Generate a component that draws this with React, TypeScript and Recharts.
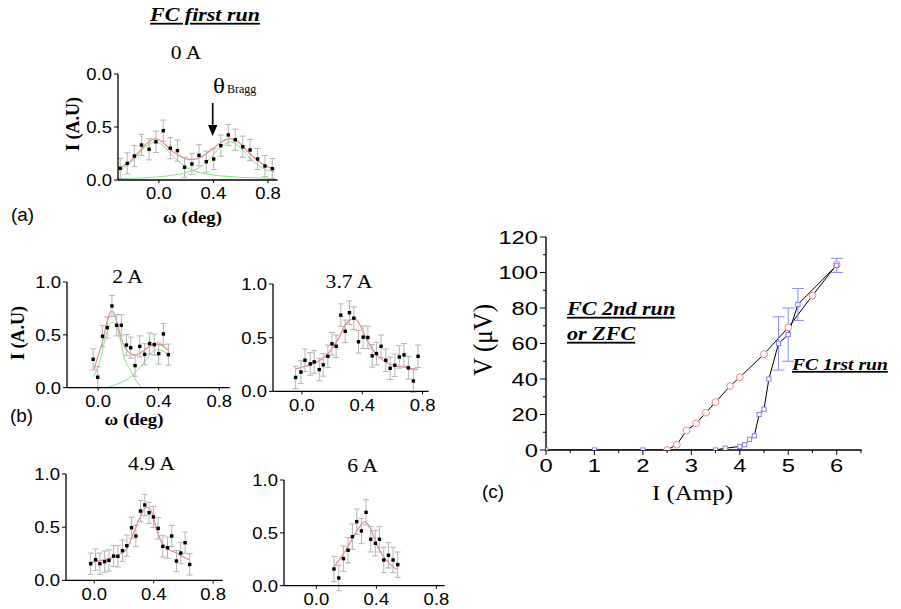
import React from 'react';
import { ComposedChart, Line, Scatter, XAxis, YAxis, ErrorBar } from 'recharts';

// ---------------- Panel (a): FC first run, 0 A ----------------
const omega0A = [-0.284, -0.232, -0.18, -0.128, -0.072, -0.022, 0.032, 0.084, 0.136, 0.188, 0.242, 0.294, 0.348, 0.402, 0.454, 0.509, 0.56, 0.615, 0.669, 0.724, 0.778, 0.832];
const int0A = [0.11, 0.157, 0.226, 0.33, 0.29, 0.36, 0.465, 0.3, 0.277, 0.12, 0.151, 0.233, 0.173, 0.198, 0.324, 0.425, 0.38, 0.314, 0.283, 0.198, 0.132, 0.107];
const err0A = [0.095, 0.1, 0.1, 0.1, 0.1, 0.1, 0.1, 0.1, 0.1, 0.095, 0.1, 0.1, 0.1, 0.1, 0.1, 0.1, 0.1, 0.1, 0.1, 0.1, 0.1, 0.095];
const fitOmega0A = [-0.3, -0.25, -0.2, -0.15, -0.1, -0.05, -0.03, 0, 0.05, 0.1, 0.15, 0.2, 0.25, 0.3, 0.35, 0.4, 0.45, 0.5, 0.52, 0.55, 0.6, 0.65, 0.7, 0.75, 0.8, 0.85];
const fit0A = [0.11, 0.14, 0.19, 0.26, 0.33, 0.38, 0.39, 0.38, 0.33, 0.27, 0.23, 0.2, 0.195, 0.21, 0.25, 0.3, 0.35, 0.385, 0.39, 0.38, 0.34, 0.27, 0.21, 0.16, 0.125, 0.1];
const g1Omega0A = [-0.3, -0.25, -0.2, -0.15, -0.1, -0.05, -0.03, 0, 0.05, 0.1, 0.15, 0.2, 0.25, 0.3, 0.4, 0.5, 0.6, 0.7, 0.85];
const g1Fit0A = [0.09, 0.12, 0.17, 0.24, 0.31, 0.35, 0.36, 0.35, 0.3, 0.23, 0.17, 0.12, 0.09, 0.07, 0.045, 0.035, 0.025, 0.02, 0.015];
const g2Omega0A = [-0.3, -0.2, -0.1, 0, 0.1, 0.2, 0.25, 0.3, 0.35, 0.4, 0.45, 0.5, 0.52, 0.55, 0.6, 0.65, 0.7, 0.75, 0.8, 0.85];
const g2Fit0A = [0.01, 0.015, 0.02, 0.03, 0.045, 0.07, 0.09, 0.12, 0.17, 0.24, 0.31, 0.35, 0.36, 0.35, 0.3, 0.23, 0.17, 0.12, 0.09, 0.075];

// ---------------- Panel (b): 2 A ----------------
const omega2A = [-0.033, -0.003, 0.029, 0.06, 0.091, 0.122, 0.153, 0.187, 0.215, 0.244, 0.275, 0.307, 0.34, 0.371, 0.4, 0.431, 0.464];
const int2A = [0.268, 0.098, 0.486, 0.568, 0.773, 0.59, 0.59, 0.403, 0.378, 0.208, 0.39, 0.315, 0.417, 0.407, 0.322, 0.508, 0.312];
const err2A = [0.1, 0.1, 0.1, 0.1, 0.1, 0.1, 0.1, 0.1, 0.1, 0.1, 0.1, 0.1, 0.1, 0.1, 0.1, 0.1, 0.1];
const fitOmega2A = [-0.03, 0, 0.03, 0.05, 0.07, 0.09, 0.12, 0.15, 0.18, 0.21, 0.24, 0.27, 0.3, 0.35, 0.38, 0.42, 0.46];
const fit2A = [0.165, 0.3, 0.44, 0.57, 0.68, 0.73, 0.64, 0.48, 0.37, 0.325, 0.31, 0.32, 0.35, 0.4, 0.41, 0.4, 0.355];
const g1Omega2A = [-0.03, 0.015, 0.05, 0.09, 0.11, 0.137, 0.171, 0.215, 0.25, 0.285];
const g1Fit2A = [0.1, 0.27, 0.48, 0.62, 0.6, 0.51, 0.29, 0.16, 0.07, 0.0];
const g2Omega2A = [0.06, 0.12, 0.17, 0.215, 0.25, 0.28, 0.32, 0.36, 0.39, 0.42, 0.46];
const g2Fit2A = [0.0, 0.03, 0.06, 0.1, 0.15, 0.195, 0.27, 0.34, 0.36, 0.35, 0.32];

// ---------------- Panel (b): 3.7 A ----------------
const omega37A = [-0.042, -0.007, 0.02, 0.055, 0.081, 0.115, 0.141, 0.172, 0.199, 0.227, 0.258, 0.287, 0.315, 0.344, 0.375, 0.406, 0.437, 0.466, 0.494, 0.525, 0.556, 0.585, 0.616, 0.646, 0.677, 0.706, 0.739, 0.77];
const int37A = [0.13, 0.18, 0.29, 0.256, 0.275, 0.203, 0.247, 0.327, 0.443, 0.42, 0.71, 0.56, 0.733, 0.682, 0.462, 0.505, 0.502, 0.331, 0.352, 0.42, 0.29, 0.215, 0.243, 0.321, 0.34, 0.219, 0.097, 0.327];
const err37A = [0.105, 0.105, 0.105, 0.105, 0.105, 0.105, 0.105, 0.105, 0.105, 0.105, 0.105, 0.105, 0.11, 0.105, 0.105, 0.105, 0.105, 0.105, 0.105, 0.105, 0.105, 0.105, 0.105, 0.105, 0.105, 0.105, 0.105, 0.105];
const fitOmega37A = [-0.04, 0, 0.05, 0.1, 0.15, 0.21, 0.25, 0.275, 0.31, 0.35, 0.38, 0.43, 0.48, 0.52, 0.56, 0.62, 0.7, 0.77];
const fit37A = [0.21, 0.225, 0.245, 0.275, 0.32, 0.42, 0.51, 0.59, 0.655, 0.68, 0.63, 0.48, 0.37, 0.31, 0.27, 0.24, 0.22, 0.205];

// ---------------- Panel (b): 4.9 A ----------------
const omega49A = [-0.024, 0.009, 0.038, 0.07, 0.099, 0.13, 0.159, 0.19, 0.219, 0.251, 0.28, 0.311, 0.34, 0.369, 0.398, 0.43, 0.461, 0.493, 0.521, 0.553, 0.582, 0.611, 0.642];
const int49A = [0.157, 0.195, 0.157, 0.176, 0.188, 0.229, 0.226, 0.279, 0.326, 0.495, 0.417, 0.652, 0.709, 0.636, 0.596, 0.489, 0.32, 0.307, 0.417, 0.182, 0.257, 0.354, 0.15];
const err49A = [0.1, 0.1, 0.1, 0.1, 0.1, 0.1, 0.1, 0.1, 0.1, 0.1, 0.1, 0.1, 0.1, 0.1, 0.1, 0.1, 0.1, 0.1, 0.1, 0.1, 0.1, 0.1, 0.1];
const fitOmega49A = [-0.03, 0.04, 0.1, 0.15, 0.22, 0.26, 0.31, 0.35, 0.38, 0.42, 0.46, 0.5, 0.55, 0.6, 0.64];
const fit49A = [0.17, 0.185, 0.205, 0.23, 0.3, 0.43, 0.6, 0.69, 0.66, 0.48, 0.34, 0.29, 0.26, 0.22, 0.195];

// ---------------- Panel (b): 6 A ----------------
const omega6A = [0.117, 0.149, 0.18, 0.211, 0.24, 0.269, 0.3, 0.331, 0.362, 0.393, 0.42, 0.449, 0.48, 0.511, 0.542];
const int6A = [0.158, 0.073, 0.256, 0.335, 0.464, 0.606, 0.518, 0.694, 0.439, 0.401, 0.439, 0.243, 0.288, 0.243, 0.199];
const err6A = [0.12, 0.12, 0.12, 0.12, 0.12, 0.12, 0.12, 0.12, 0.12, 0.12, 0.12, 0.12, 0.12, 0.12, 0.12];
const fitOmega6A = [0.117, 0.17, 0.222, 0.27, 0.3, 0.32, 0.35, 0.4, 0.43, 0.467, 0.5, 0.542];
const fit6A = [0.18, 0.28, 0.4, 0.52, 0.58, 0.605, 0.57, 0.4, 0.31, 0.24, 0.19, 0.15];

// ---------------- Panel (c): V vs I ----------------
const zfcCurrent = [2.5, 2.7, 2.9, 3.1, 3.3, 3.5, 3.8, 4.0, 4.5, 5.0, 5.5, 6.0];
const zfcVoltage = [0, 3, 11, 15, 21, 27, 36, 41, 54, 69, 87, 104.5];
const fc1Current = [0, 1, 2, 3.5, 3.7, 4.0, 4.1, 4.2, 4.3, 4.4, 4.5, 4.6, 4.8, 5.0, 5.2, 6.0];
const fc1Voltage = [0, 0, 0, 0, 1, 2, 3, 6, 8, 20, 23, 40, 60, 65, 82, 104];
const fc1Err = [null, null, null, null, null, null, null, null, null, null, null, null, 15, 15, 9, 4];

// ---------------- Ticks ----------------
const smallXTicks = [0, 0.4, 0.8];
const smallYTicks = [0, 0.5, 1];
const cXTicks = [0, 0.5, 1, 1.5, 2, 2.5, 3, 3.5, 4, 4.5, 5, 5.5, 6, 6.5];
const cYTicks = [0, 10, 20, 30, 40, 50, 60, 70, 80, 90, 100, 110, 120];

const SANS = 'Liberation Sans, Arial, Helvetica, sans-serif';
const SERIF = 'Liberation Serif, Times New Roman, serif';

const zip = (xs: number[], ys: number[], es?: (number | null)[]) =>
  xs.map((x, i) => ({ x, y: ys[i], e: es ? es[i] : undefined }));

type TickOpts = {
  axis: 'x' | 'y';
  isMajor: (v: number) => boolean;
  majorLen: number;
  minorLen: number;
  gap: number;
  fs: number;
  sx: number;
  fmt: (v: number) => string;
};

function makeTick(o: TickOpts) {
  return (p: any) => {
    const v = p.payload.value;
    const major = o.isMajor(v);
    const len = major ? o.majorLen : o.minorLen;
    if (o.axis === 'y') {
      return (
        <g key={`yt-${v}`}>
          <line x1={p.x - len} x2={p.x} y1={p.y} y2={p.y} stroke="#000" strokeWidth={1} />
          {major && (
            <text
              transform={`translate(${p.x - len - o.gap},${p.y}) scale(${o.sx},1)`}
              textAnchor="end"
              dy="0.36em"
              fontSize={o.fs}
              fontFamily={SANS}
              fill="#000"
            >
              {o.fmt(v)}
            </text>
          )}
        </g>
      );
    }
    return (
      <g key={`xt-${v}`}>
        <line x1={p.x} x2={p.x} y1={p.y} y2={p.y + len} stroke="#000" strokeWidth={1} />
        {major && (
          <text
            transform={`translate(${p.x},${p.y + len + o.gap}) scale(${o.sx},1)`}
            textAnchor="middle"
            dy="0.71em"
            fontSize={o.fs}
            fontFamily={SANS}
            fill="#000"
          >
            {o.fmt(v)}
          </text>
        )}
      </g>
    );
  };
}

const square = (p: any) => (
  <rect x={p.cx - 1.7} y={p.cy - 1.7} width={3.4} height={3.4} fill="#000" />
);

type Box = { x0: number; y0: number; x1: number; y1: number };

type SmallProps = {
  box: Box;
  xDomain: [number, number];
  points: { x: number; y: number; e?: number | null }[];
  fit: { x: number; y: number }[];
  comps?: { x: number; y: number }[][];
  yFmt: (v: number) => string;
  xGap: number;
};

const YW = 50;
const XH = 30;
const MT = 10;
const MR = 18;

function SmallPanel({ box, xDomain, points, fit, comps, yFmt, xGap }: SmallProps) {
  const W = box.x1 - box.x0 + YW + MR;
  const H = box.y1 - box.y0 + MT + XH;
  return (
    <div style={{ position: 'absolute', left: box.x0 - YW, top: box.y0 - MT, width: W, height: H }}>
      <ComposedChart width={W} height={H} margin={{ top: MT, right: MR, bottom: 0, left: 0 }}>
        <XAxis
          type="number"
          dataKey="x"
          domain={xDomain}
          allowDataOverflow
          ticks={smallXTicks}
          interval={0}
          height={XH}
          tickSize={0}
          tickMargin={0}
          tickLine={false}
          axisLine={{ stroke: '#000', strokeWidth: 1.3 }}
          tick={makeTick({ axis: 'x', isMajor: () => true, majorLen: 3, minorLen: 0, gap: xGap, fs: 16.5, sx: 1.12, fmt: (v) => v.toFixed(1) })}
        />
        <YAxis
          type="number"
          dataKey="y"
          domain={[0, 1]}
          allowDataOverflow
          ticks={smallYTicks}
          interval={0}
          width={YW}
          tickSize={0}
          tickMargin={0}
          tickLine={false}
          axisLine={{ stroke: '#000', strokeWidth: 1.3 }}
          tick={makeTick({ axis: 'y', isMajor: () => true, majorLen: 4, minorLen: 0, gap: 2, fs: 16.5, sx: 1.12, fmt: yFmt })}
        />
        {(comps || []).map((c, i) => (
          <Line
            key={`comp-${i}`}
            data={c}
            dataKey="y"
            type="monotone"
            stroke="#86e486"
            strokeWidth={1}
            dot={false}
            activeDot={false}
            isAnimationActive={false}
          />
        ))}
        <Line
          data={fit}
          dataKey="y"
          type="monotone"
          stroke="#f08585"
          strokeWidth={1.2}
          dot={false}
          activeDot={false}
          isAnimationActive={false}
        />
        <Scatter data={points} dataKey="y" shape={square} isAnimationActive={false}>
          <ErrorBar dataKey="e" direction="y" width={3} stroke="#b4b4b4" strokeWidth={1} />
        </Scatter>
      </ComposedChart>
    </div>
  );
}

const redCircle = (p: any) => (
  <circle key={`rc-${p.index}`} cx={p.cx} cy={p.cy} r={3.4} fill="#fff" stroke="#ff7f7f" strokeWidth={1} />
);
const blueSquare = (p: any) => (
  <rect key={`bs-${p.index}`} x={p.cx - 2.1} y={p.cy - 2.1} width={4.2} height={4.2} fill="#fff" stroke="#7f7fff" strokeWidth={1} />
);

function PanelC() {
  const box: Box = { x0: 546, y0: 236.7, x1: 861.7, y1: 449.7 };
  const yw = 70;
  const xh = 35;
  const mt = 10;
  const mr = 20;
  const W = box.x1 - box.x0 + yw + mr;
  const H = box.y1 - box.y0 + mt + xh;
  const zfc = zip(zfcCurrent, zfcVoltage);
  const fc1 = zip(fc1Current, fc1Voltage, fc1Err);
  return (
    <div style={{ position: 'absolute', left: box.x0 - yw, top: box.y0 - mt, width: W, height: H }}>
      <ComposedChart width={W} height={H} margin={{ top: mt, right: mr, bottom: 0, left: 0 }}>
        <XAxis
          type="number"
          dataKey="x"
          domain={[0, 6.516]}
          allowDataOverflow
          ticks={cXTicks}
          interval={0}
          height={xh}
          tickSize={0}
          tickMargin={0}
          tickLine={false}
          axisLine={{ stroke: '#000', strokeWidth: 1.4 }}
          tick={makeTick({ axis: 'x', isMajor: (v) => Number.isInteger(v), majorLen: 5, minorLen: 3, gap: 4, fs: 19, sx: 1.25, fmt: (v) => String(v) })}
        />
        <YAxis
          type="number"
          dataKey="y"
          domain={[0, 120]}
          allowDataOverflow
          ticks={cYTicks}
          interval={0}
          width={yw}
          tickSize={0}
          tickMargin={0}
          tickLine={false}
          axisLine={{ stroke: '#000', strokeWidth: 1.4 }}
          tick={makeTick({ axis: 'y', isMajor: (v) => v % 20 === 0, majorLen: 6, minorLen: 3, gap: 2, fs: 19, sx: 1.25, fmt: (v) => String(v) })}
        />
        <Line
          data={zfc}
          dataKey="y"
          type="linear"
          stroke="#000"
          strokeWidth={1}
          dot={redCircle}
          activeDot={false}
          isAnimationActive={false}
        />
        <Line
          data={fc1}
          dataKey="y"
          type="linear"
          stroke="#000"
          strokeWidth={1}
          dot={blueSquare}
          activeDot={false}
          isAnimationActive={false}
        >
          <ErrorBar dataKey="e" direction="y" width={6} stroke="#8a8aff" strokeWidth={1} />
        </Line>
      </ComposedChart>
    </div>
  );
}

type TProps = {
  x: number;
  y: number;
  fs: number;
  sx?: number;
  anchor?: 'start' | 'middle' | 'end';
  weight?: string;
  italic?: boolean;
  family?: string;
  underline?: boolean;
  rotate?: boolean;
  children: React.ReactNode;
};

function T({ x, y, fs, sx = 1, anchor = 'start', weight = 'normal', italic = false, family = SERIF, underline = false, rotate = false, children }: TProps) {
  const transform = rotate
    ? `translate(${x},${y}) scale(${sx},1) rotate(-90)`
    : `translate(${x},${y}) scale(${sx},1)`;
  return (
    <text
      transform={transform}
      textAnchor={anchor}
      fontSize={fs}
      fontWeight={weight}
      fontStyle={italic ? 'italic' : 'normal'}
      fontFamily={family}
      fill="#000"
      dy={rotate ? '0.35em' : undefined}
      textDecoration={underline ? 'underline' : undefined}
    >
      {children}
    </text>
  );
}

export default function App() {
  const fmt1 = (v: number) => v.toFixed(1);
  const fmtA = (v: number) => (v === 1 ? '0.0' : v.toFixed(1));
  return (
    <div style={{ position: 'absolute', left: 0, top: 0, width: 901, height: 609, background: '#fff', overflow: 'hidden' }}>
      <SmallPanel
        box={{ x0: 117.5, y0: 74, x1: 277, y1: 180 }}
        xDomain={[-0.3, 0.87]}
        points={zip(omega0A, int0A, err0A)}
        fit={zip(fitOmega0A, fit0A)}
        comps={[zip(g1Omega0A, g1Fit0A), zip(g2Omega0A, g2Fit0A)]}
        yFmt={fmtA}
        xGap={4}
      />
      <SmallPanel
        box={{ x0: 66.5, y0: 281.7, x1: 229.3, y1: 387.3 }}
        xDomain={[-0.206, 0.87]}
        points={zip(omega2A, int2A, err2A)}
        fit={zip(fitOmega2A, fit2A)}
        comps={[zip(g1Omega2A, g1Fit2A), zip(g2Omega2A, g2Fit2A)]}
        yFmt={fmt1}
        xGap={5}
      />
      <SmallPanel
        box={{ x0: 272.7, y0: 284.3, x1: 428.3, y1: 391.7 }}
        xDomain={[-0.192, 0.84]}
        points={zip(omega37A, int37A, err37A)}
        fit={zip(fitOmega37A, fit37A)}
        yFmt={fmt1}
        xGap={5}
      />
      <SmallPanel
        box={{ x0: 66, y0: 474.3, x1: 222.7, y1: 580.7 }}
        xDomain={[-0.19, 0.864]}
        points={zip(omega49A, int49A, err49A)}
        fit={zip(fitOmega49A, fit49A)}
        yFmt={fmt1}
        xGap={5}
      />
      <SmallPanel
        box={{ x0: 284.3, y0: 480, x1: 445, y1: 585.7 }}
        xDomain={[-0.216, 0.855]}
        points={zip(omega6A, int6A, err6A)}
        fit={zip(fitOmega6A, fit6A)}
        yFmt={fmt1}
        xGap={5}
      />
      <PanelC />
      <svg width={901} height={609} style={{ position: 'absolute', left: 0, top: 0, pointerEvents: 'none' }}>
        {/* Panel (a) */}
        <T x={205} y={21} fs={18} sx={1.22} anchor="middle" weight="bold" italic underline>FC first run</T>
        <T x={186} y={59} fs={18} sx={1.2} anchor="middle">0 A</T>
        <T x={72} y={124} fs={18} sx={1.1} anchor="middle" weight="bold" rotate>I (A.U)</T>
        <T x={192.5} y={223} fs={17} sx={1.1} anchor="middle" weight="bold">ω (deg)</T>
        <T x={11} y={221} fs={18} sx={1.05} family={SANS}>(a)</T>
        <T x={213} y={93} fs={20} sx={1.25}>θ</T>
        <T x={227} y={93} fs={12}>Bragg</T>
        <line x1={212.7} y1={103} x2={212.7} y2={126} stroke="#000" strokeWidth={1.6} />
        <polygon points="208,125 217.4,125 212.7,136" fill="#000" />

        {/* Panel (b) */}
        <T x={127.5} y={283} fs={18} sx={1.2} anchor="middle">2 A</T>
        <T x={349} y={288} fs={18} sx={1.2} anchor="middle">3.7 A</T>
        <T x={151.5} y={470} fs={18} sx={1.2} anchor="middle">4.9 A</T>
        <T x={362.5} y={472} fs={18} sx={1.2} anchor="middle">6 A</T>
        <T x={17.5} y={333} fs={18} sx={1.1} anchor="middle" weight="bold" rotate>I (A.U)</T>
        <T x={134} y={425} fs={17} sx={1.1} anchor="middle" weight="bold">ω (deg)</T>
        <T x={10} y={422} fs={18} sx={1.05} family={SANS}>(b)</T>

        {/* Panel (c) */}
        <T x={482.5} y={340} fs={25} sx={1.05} anchor="middle" rotate>V (μV)</T>
        <T x={692.5} y={500} fs={20} sx={1.25} anchor="middle">I (Amp)</T>
        <T x={482} y={498} fs={18} sx={1.05} family={SANS}>(c)</T>
        <T x={567} y={315} fs={18} sx={1.23} weight="bold" italic underline>FC 2nd run</T>
        <T x={567} y={340} fs={18} sx={1.23} weight="bold" italic underline>or ZFC</T>
        <T x={792} y={370} fs={17.5} sx={1.12} weight="bold" italic underline>FC 1rst run</T>
      </svg>
    </div>
  );
}
